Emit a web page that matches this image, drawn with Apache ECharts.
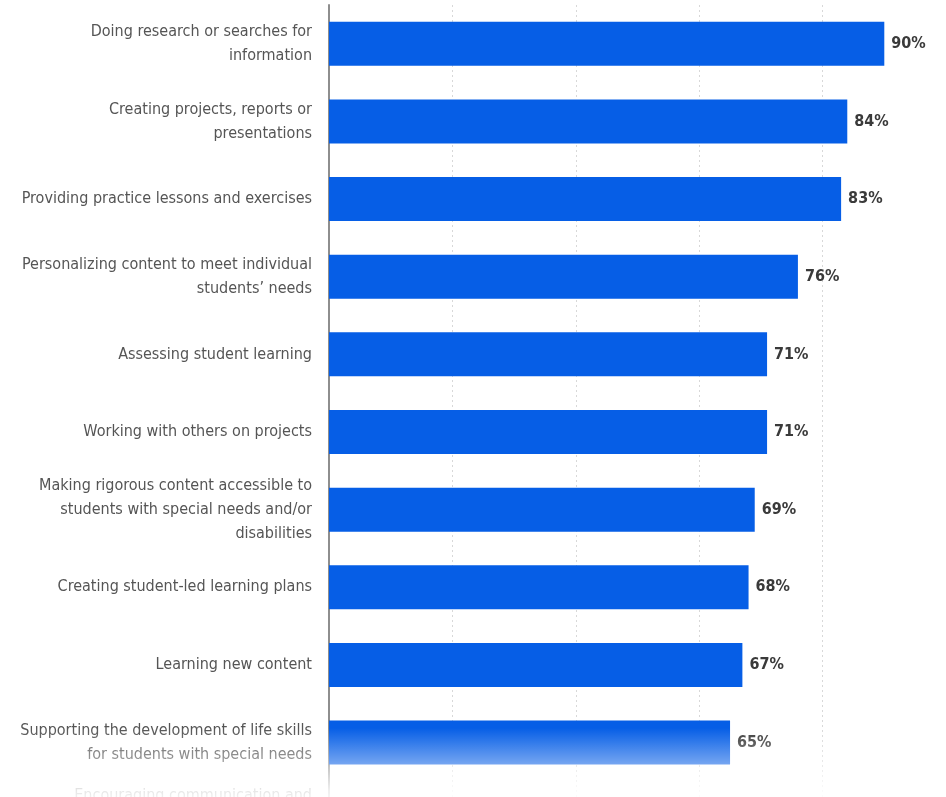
<!DOCTYPE html>
<html>
<head>
<meta charset="utf-8">
<script src="https://cdn.jsdelivr.net/npm/echarts@6/dist/echarts.min.js"></script>
<style>
  html, body { margin: 0; padding: 0; background: #fff; overflow: hidden; }
  #chart { width: 946px; height: 859px; }
</style>
</head>
<body>
<div id="chart"></div>
<script>
// Uses of digital learning tools, share of respondents
const categories = [
  "Doing research or searches for\ninformation",
  "Creating projects, reports or\npresentations",
  "Providing practice lessons and exercises",
  "Personalizing content to meet individual\nstudents\u2019 needs",
  "Assessing student learning",
  "Working with others on projects",
  "Making rigorous content accessible to\nstudents with special needs and/or\ndisabilities",
  "Creating student-led learning plans",
  "Learning new content",
  "Supporting the development of life skills\nfor students with special needs",
  "Encouraging communication and\ncollaboration among students and\nteachers"
];
const shares = [90, 84, 83, 76, 71, 71, 69, 68, 67, 65, 63];
const xTicks = [0, 20, 40, 60, 80, 100];

const chart = echarts.init(document.getElementById('chart'));
const labelFont = "'Liberation Sans Narrow', 'DejaVu Sans Condensed', sans-serif";

chart.setOption({
  animation: false,
  backgroundColor: '#ffffff',
  grid: { left: 329, right: 0, top: 5, bottom: 0, containLabel: false },
  xAxis: {
    type: 'value',
    min: xTicks[0],
    max: xTicks[xTicks.length - 1],
    interval: 20,
    axisLine: { show: false },
    axisTick: { show: false },
    axisLabel: { show: false },
    splitLine: { show: true, lineStyle: { color: '#d8d8d8', type: [2, 3], width: 1 } }
  },
  yAxis: {
    type: 'category',
    data: categories,
    inverse: true,
    axisLine: { show: true, lineStyle: { color: '#8e8e8e', width: 2 } },
    axisTick: { show: false },
    axisLabel: {
      margin: 17,
      color: '#555555',
      fontFamily: labelFont,
      fontSize: 16,
      lineHeight: 24,
      align: 'right'
    }
  },
  series: [{
    type: 'bar',
    data: shares,
    barWidth: 44,
    itemStyle: { color: '#065ee6' },
    label: {
      show: true,
      position: 'right',
      distance: 7,
      formatter: '{c}%',
      color: '#3a3a3a',
      fontFamily: labelFont,
      fontSize: 16,
      fontWeight: 'bold'
    }
  }],
  // white fade across the lower edge of the chart
  graphic: [{
    type: 'rect',
    z: 100,
    silent: true,
    shape: { x: 0, y: 728, width: 946, height: 131 },
    style: {
      fill: new echarts.graphic.LinearGradient(0, 0, 0, 1, [
        { offset: 0, color: 'rgba(255,255,255,0)' },
        { offset: 0.28, color: 'rgba(255,255,255,0.45)' },
        { offset: 0.47, color: 'rgba(255,255,255,0.85)' },
        { offset: 0.6, color: 'rgba(255,255,255,0.97)' },
        { offset: 1, color: 'rgba(255,255,255,1)' }
      ])
    }
  }]
});
</script>
</body>
</html>
